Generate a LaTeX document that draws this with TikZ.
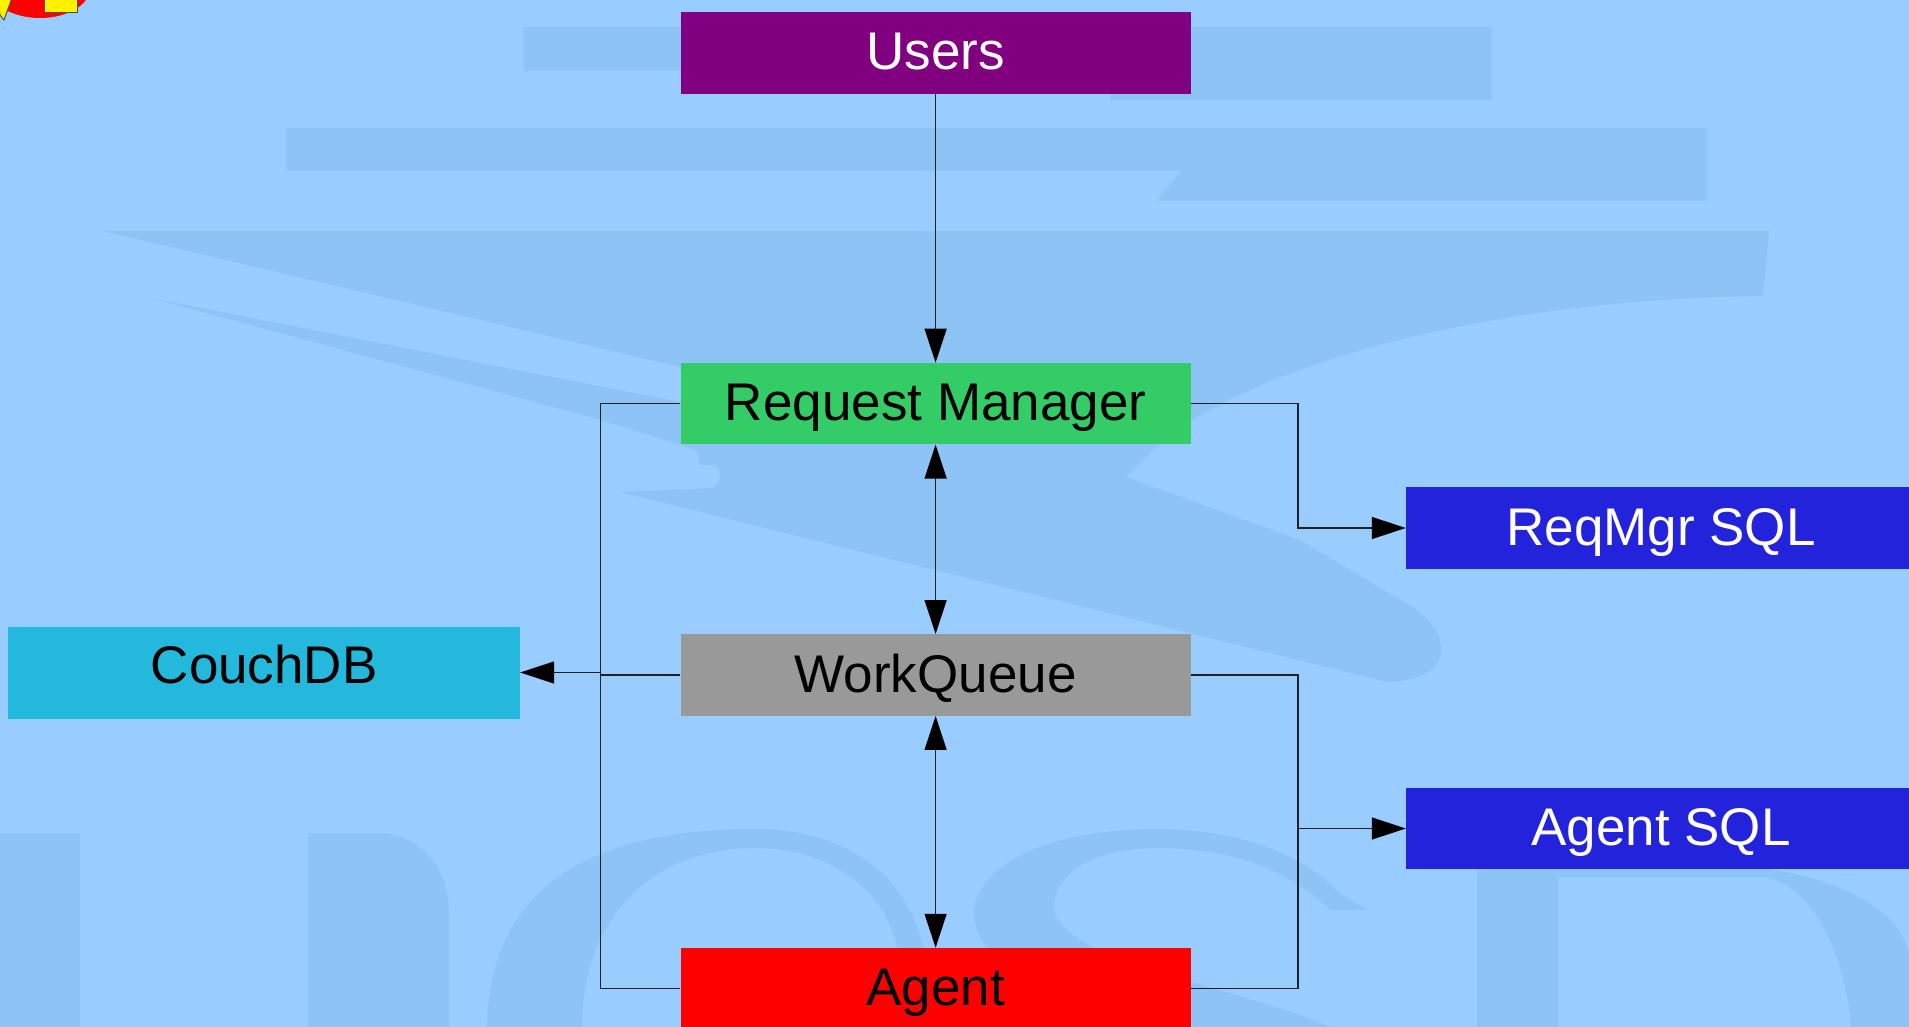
\documentclass[tikz,border=0pt]{standalone}
\usepackage{fontspec}
\setmainfont{Liberation Sans}
\usetikzlibrary{arrows.meta}
\definecolor{bg}{HTML}{99CCFF}
\definecolor{wm}{HTML}{8EC3F5}
\definecolor{usr}{HTML}{800080}
\definecolor{rmg}{HTML}{33CC66}
\definecolor{sqlb}{HTML}{2323DC}
\definecolor{cdb}{HTML}{23B8DC}
\definecolor{wqg}{HTML}{999999}
\definecolor{agr}{HTML}{FF0000}
\definecolor{ln}{HTML}{20202A}
\definecolor{logoy}{HTML}{FFF200}
\begin{document}
\begin{tikzpicture}[x=1pt,y=-1pt,
  box/.style={minimum width=510pt, minimum height=81.5pt, inner sep=0pt,
    text height=38pt, text depth=4pt, font=\fontsize{53}{60}\selectfont},
  conn/.style={draw=ln, line width=1.3pt},
  arr/.style={-{Triangle[length=34pt,width=22pt,color=black]}},
  darr/.style={{Triangle[length=34pt,width=22pt,color=black]}-{Triangle[length=34pt,width=22pt,color=black]}},
  wmark/.style={fill=wm, draw=none}]
\useasboundingbox (0,0) rectangle (1909,1027);
\clip (0,0) rectangle (1909,1027);
\fill[bg] (0,0) rectangle (1909,1027);
% watermark
\path[wmark] (523.5,27) -- (1491.5,27) -- (1491.5,100) -- (1110,100) -- (1110,70.7) -- (523.5,70.7) -- cycle;
\path[wmark] (286,128) -- (1707,128) -- (1707,200.7) -- (1156.6,200.7) -- (1181,170.7) -- (286,170.7) -- cycle;
\path[wmark] (103,231) -- (1769,231) -- (1763,296) .. controls (1450,300) and (1230,380) .. (1159,445) -- (1126,477) -- (700,465) -- (680,367) -- cycle;
\path[wmark] (155,299) -- (680,402) -- (1126,477) -- (1300,540) -- (1412,607) .. controls (1450,630) and (1460,680) .. (1387,682) -- (620,492) -- (713,488) .. controls (725,482) and (725,462) .. (690,448) -- (601,420) -- cycle;
\path[wmark] (0,833) rectangle (80,1027);
\path[wmark] (308,833) -- (385,833) .. controls (430,840) and (449,875) .. (449,915) -- (449,1027) -- (308,1027) -- cycle;
\path[wmark] (487,1027) .. controls (490,880) and (600,829) .. (755,829) .. controls (850,829) and (915,880) .. (925,960) -- (900,960) .. controls (890,890) and (830,848) .. (755,848) .. controls (650,848) and (582,920) .. (582,1027) -- cycle;
\path[wmark] (1367,910) -- (1339,893) .. controls (1300,850) and (1230,829) .. (1157,829) .. controls (1040,829) and (974,870) .. (974,913) .. controls (974,980) and (1100,1000) .. (1200,1027) -- (1330,1027) .. controls (1250,990) and (1054,960) .. (1054,907) .. controls (1054,870) and (1100,848) .. (1157,848) .. controls (1230,848) and (1290,870) .. (1330,910) -- cycle;
\path[wmark] (1477,863) rectangle (1558,1027);
\path[wmark] (1558,863) -- (1680,863) .. controls (1850,863) and (1909,920) .. (1909,960) -- (1909,1027) -- (1851,1027) .. controls (1845,950) and (1810,885) .. (1765,877) -- (1558,877) -- cycle;
% logo fragment
\fill[red] (40,-12) ellipse [x radius=50, y radius=30];
\filldraw[fill=logoy, draw=black!70, line width=1pt] (44,-2) rectangle (77,13);
\filldraw[fill=logoy, draw=black!70, line width=1pt] (-2,-2) -- (12,-2) -- (4,20) -- (0,15) -- cycle;
% nodes
\node[box, fill=usr, text=white] (users) at (935.6,53) {Users};
\node[box, fill=rmg] (rm) at (935.6,403.6) {Request Manager};
\node[box, fill=wqg] (wq) at (935.6,675) {WorkQueue};
\node[box, fill=agr] (agent) at (935.6,988.7) {Agent};
\node[box, fill=sqlb, text=white] (rsql) at (1661,528) {ReqMgr SQL};
\node[box, fill=sqlb, text=white] (asql) at (1661,828.5) {Agent SQL};
\node[box, fill=cdb, minimum width=511.5pt, minimum height=92pt, text depth=17pt] (couch) at (264.2,672.5) {CouchDB};
% bus coordinates
\coordinate (lb1) at (600.2,403.6);
\coordinate (lb2) at (600.2,988.7);
\coordinate (lbw) at (600.2,675);
\coordinate (lbc) at (600.2,672.5);
\coordinate (rb1) at (1298,403.6);
\coordinate (rb2) at (1298,528);
\coordinate (rb3) at (1298,675);
\coordinate (rb4) at (1298,988.7);
\coordinate (rb5) at (1298,828.5);
% connectors
\draw[conn, arr] (users) -- (rm);
\draw[conn, darr] (rm) -- (wq);
\draw[conn, darr] (wq) -- (agent);
\draw[conn] (rm.west) -- (lb1) -- (lb2) -- (agent.west);
\draw[conn] (wq.west) -- (lbw);
\draw[conn, arr] (lbc) -- (couch.east);
\draw[conn, arr] (rm.east) -- (rb1) -- (rb2) -- (rsql.west);
\draw[conn] (wq.east) -- (rb3) -- (rb4) -- (agent.east);
\draw[conn, arr] (rb5) -- (asql.west);
\end{tikzpicture}
\end{document}
